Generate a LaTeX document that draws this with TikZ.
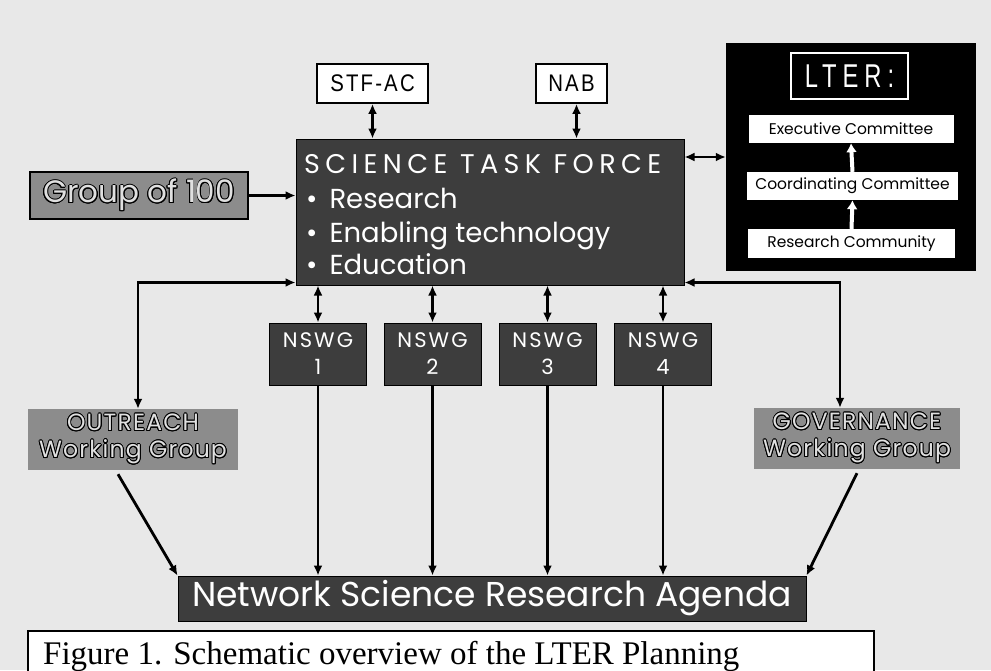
\documentclass[tikz,border=0pt]{standalone}
\usepackage{fontspec}
\setmainfont{Poppins}
\newfontfamily\narrowfont[FakeStretch=0.85,LetterSpace=9]{Liberation Sans}
\newfontfamily\lterfont[FakeStretch=0.72,LetterSpace=18]{Liberation Sans}
\newfontfamily\capfont{Liberation Serif}
\newfontfamily\spacedfont[LetterSpace=10]{Poppins}
\newfontfamily\titlefont[LetterSpace=20]{Poppins}
\newfontfamily\wgfont[LetterSpace=5]{Poppins}
\usepackage{contour}
\contourlength{0.9pt}
\usetikzlibrary{arrows.meta,calc}
\definecolor{bgc}{gray}{0.91}
\definecolor{dk}{gray}{0.24}
\definecolor{md}{gray}{0.55}
\definecolor{lt}{gray}{0.88}
\begin{document}
\begin{tikzpicture}[x=1pt,y=-1pt,
  dbl/.style={line width=2.8pt,{Latex[length=10pt,width=9pt]}-{Latex[length=10pt,width=9pt]}},
  arr/.style={line width=2.8pt,-{Latex[length=10pt,width=9pt]}},
  warr/.style={line width=4pt,white,-{Latex[length=9pt,width=11pt]}},
  wbox/.style={draw=black,line width=1.8pt,fill=white,inner sep=0pt,font=\narrowfont\fontsize{24}{24}\selectfont},
  darkbox/.style={draw=black,line width=1pt,fill=dk,inner sep=0pt,text=white},
  graybox/.style={fill=md,inner sep=0pt,text=lt,align=center},
  lbox/.style={fill=white,inner sep=0pt,text=black,font=\fontsize{15.5}{16}\selectfont},
  stftext/.style={anchor=base west,text=white,inner sep=0pt,font=\fontsize{27.5}{28}\selectfont},
  nswg/.style={darkbox,minimum width=97pt,minimum height=62pt,align=center,font=\spacedfont\fontsize{21}{27}\selectfont},
  wgroup/.style={graybox,minimum height=61pt,font=\wgfont\fontsize{23.5}{27}\selectfont}
]
\useasboundingbox (0,0) rectangle (991,670);
\fill[bgc] (0,0) rectangle (991,670);

% top boxes
\node[wbox,minimum width=111pt,minimum height=39pt] (stfac) at (372.5,83.5) {STF-AC};
\node[wbox,minimum width=71pt,minimum height=39pt] (nab) at (571.5,83.5) {NAB};

% LTER panel
\node[fill=black,minimum width=250pt,minimum height=228pt,inner sep=0pt] (lter) at (851,157) {};
\node[draw=white,line width=1.2pt,fill=black,minimum width=117pt,minimum height=46pt,inner sep=0pt,text=white,font=\lterfont\fontsize{33}{33}\selectfont] (lterlbl) at (849.5,76) {LTER:};
\node[lbox,minimum width=205pt,minimum height=28pt] (exec) at (851,129) {Executive Committee};
\node[lbox,minimum width=211pt,minimum height=28pt] (coord) at (852.5,186) {Coordinating Committee};
\node[lbox,minimum width=207pt,minimum height=29pt] (rc) at (851.5,243.5) {Research Community};
\draw[warr] (coord.north) -- (exec.south);
\draw[warr] (rc.north) -- (coord.south);

% Science task force
\node[darkbox,minimum width=388pt,minimum height=146pt] (stf) at (490,212) {};
\node[stftext,font=\titlefont\fontsize{27}{27}\selectfont] (stft) at (304,173) {SCIENCE TASK FORCE};
\node[stftext] (b1) at (306,208) {\textbullet\hspace{12pt}Research};
\node[stftext] (b2) at (306,242) {\textbullet\hspace{12pt}Enabling technology};
\node[stftext] (b3) at (306,274) {\textbullet\hspace{12pt}Education};

% Group of 100
\node[graybox,draw=black,line width=2pt,minimum width=218pt,minimum height=47pt,font=\fontsize{31}{31}\selectfont] (g100) at (139,195.5) {\contour{black}{Group of 100}};

% NSWG boxes
\node[nswg] (n1) at (318,354) {NSWG\\1};
\node[nswg] (n2) at (432.5,354) {NSWG\\2};
\node[nswg] (n3) at (547.5,354) {NSWG\\3};
\node[nswg] (n4) at (663,354) {NSWG\\4};

% working groups
\node[wgroup,minimum width=210pt] (out) at (133,439.5) {\contour{black}{OUTREACH}\\\contour{black}{Working Group}};
\node[wgroup,minimum width=206pt] (gov) at (857,438.5) {\contour{black}{GOVERNANCE}\\\contour{black}{Working Group}};

% agenda
\node[darkbox,minimum width=628pt,minimum height=45pt,font=\fontsize{34.5}{35}\selectfont] (nsra) at (492,598.5) {Network Science Research Agenda};

% caption
\node[draw=black,line width=1.8pt,fill=white,anchor=north west,minimum width=846pt,minimum height=60pt,inner sep=0pt] (capbox) at (27,630) {};
\node[anchor=base west,inner sep=0pt,font=\capfont\fontsize{33}{33}\selectfont] (capt) at (43,664) {Figure 1. Schematic overview of the LTER Planning};

% connectors
\draw[dbl] (stfac.south) -- (stfac.south |- stf.north);
\draw[dbl] ([xshift=5pt]nab.south) -- ([xshift=5pt]nab.south |- stf.north);
\draw[arr] (g100.east) -- (g100.east -| stf.west);
\draw[dbl] (lter.west -| stf.east) -- (lter.west);
\foreach \n in {n1,n2,n3,n4}{
  \draw[dbl] (\n.north) -- (\n.north |- stf.south);
  \draw[arr] (\n.south) -- (\n.south |- nsra.north);
}
\draw[dbl] ([xshift=5pt]out.north) |- ([yshift=3pt]stf.south west);
\draw[dbl] ([xshift=-17pt]gov.north) |- ([yshift=3pt]stf.south east);
\draw[arr] ([xshift=-15pt,yshift=-4pt]out.south) -- (nsra.north west);
\draw[arr] ([yshift=-4pt]gov.south) -- (nsra.north east);
\end{tikzpicture}
\end{document}
